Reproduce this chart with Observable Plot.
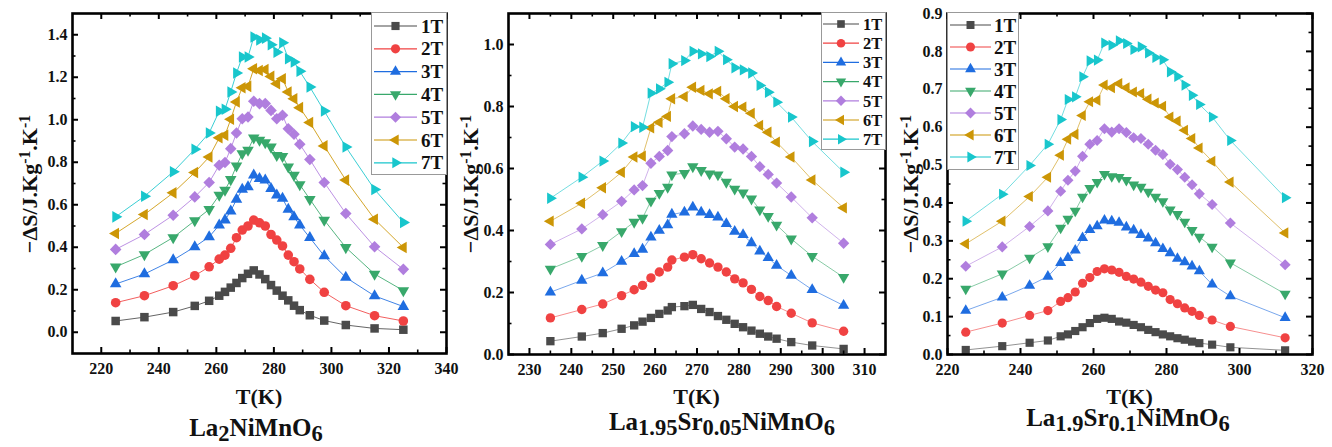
<!DOCTYPE html>
<html><head><meta charset="utf-8">
<script src="https://cdn.jsdelivr.net/npm/d3@7"></script>
<script src="https://cdn.jsdelivr.net/npm/@observablehq/plot@0.6"></script>
<style>
body{margin:0;background:#fff;}
#wrap{position:relative;width:1332px;height:447px;overflow:hidden;font-family:"Liberation Serif","Times New Roman",serif;font-weight:bold;color:#111;}
.panel{position:absolute;top:0;}
.ylab{position:absolute;width:300px;height:22px;line-height:22px;font-size:22px;text-align:center;transform:rotate(-90deg);transform-origin:50% 50%;white-space:nowrap;}
.ylab sup{font-size:0.72em;line-height:0;vertical-align:0.45em;}
.xlab{position:absolute;width:200px;text-align:center;font-size:22px;line-height:22px;white-space:nowrap;}
.cap{position:absolute;width:320px;text-align:center;font-size:25px;line-height:25px;white-space:nowrap;}
.cap sub{font-size:0.9em;line-height:0;vertical-align:-0.22em;}
.legend{position:absolute;}
</style></head><body><div id="wrap"></div>
<script>
// ---------- DATA ----------
const seriesNames = ["1T","2T","3T","4T","5T","6T","7T"];
const seriesColors = ["#4a4a4a","#f04242","#1f6de0","#38a86b","#b07ede","#cc9606","#18c6cc"];

// Panel A: La2NiMnO6
const tempsA = [225,235,245,252.5,257.5,261,263,265,267,269,271,273,275,277,279,281,283,285,287,289,292.5,297.5,305,315,325];
const A_1T = [0.053,0.071,0.095,0.124,0.148,0.172,0.190,0.210,0.232,0.255,0.275,0.291,0.272,0.250,0.222,0.196,0.172,0.150,0.125,0.104,0.080,0.055,0.034,0.018,0.012];
const A_2T = [0.139,0.172,0.219,0.266,0.308,0.344,0.363,0.395,0.445,0.481,0.500,0.528,0.515,0.500,0.460,0.434,0.406,0.363,0.332,0.298,0.249,0.188,0.125,0.078,0.053];
const A_3T = [0.227,0.274,0.340,0.402,0.449,0.504,0.528,0.570,0.625,0.672,0.684,0.739,0.723,0.716,0.676,0.645,0.630,0.578,0.543,0.504,0.445,0.359,0.258,0.171,0.121];
const A_4T = [0.308,0.366,0.446,0.525,0.578,0.645,0.669,0.719,0.783,0.841,0.857,0.915,0.904,0.893,0.872,0.833,0.828,0.778,0.739,0.695,0.626,0.528,0.399,0.274,0.196];
const A_5T = [0.390,0.460,0.551,0.637,0.705,0.786,0.799,0.864,0.938,1.005,1.013,1.087,1.076,1.076,1.044,1.005,1.021,0.958,0.932,0.885,0.813,0.705,0.559,0.402,0.296];
const A_6T = [0.465,0.554,0.656,0.752,0.825,0.915,0.927,1.002,1.084,1.151,1.157,1.240,1.232,1.236,1.204,1.170,1.193,1.131,1.099,1.057,0.987,0.877,0.716,0.532,0.399];
const A_7T = [0.543,0.640,0.755,0.861,0.938,1.040,1.049,1.131,1.220,1.295,1.295,1.389,1.376,1.384,1.353,1.318,1.362,1.287,1.272,1.228,1.154,1.041,0.872,0.672,0.517];

// Panel B: La1.95Sr0.05NiMnO6
const tempsB = [235,242.5,247.5,252,255,257,259,261,263,264,267,269,271,273,275,277,279,281,283,285,287,289,292.5,297.5,305];
const B_1T = [0.043,0.058,0.069,0.083,0.094,0.106,0.118,0.131,0.142,0.153,0.156,0.160,0.147,0.137,0.124,0.112,0.099,0.088,0.077,0.067,0.058,0.051,0.040,0.029,0.018];
const B_2T = [0.118,0.145,0.163,0.190,0.209,0.223,0.247,0.266,0.282,0.305,0.314,0.322,0.309,0.295,0.282,0.266,0.244,0.231,0.210,0.187,0.174,0.155,0.133,0.102,0.075];
const B_3T = [0.201,0.239,0.263,0.300,0.325,0.339,0.378,0.400,0.418,0.452,0.459,0.475,0.459,0.451,0.443,0.422,0.397,0.386,0.360,0.333,0.312,0.287,0.255,0.209,0.158];
const B_4T = [0.276,0.317,0.352,0.397,0.427,0.440,0.495,0.520,0.540,0.580,0.585,0.606,0.594,0.583,0.580,0.556,0.534,0.522,0.502,0.467,0.446,0.418,0.373,0.317,0.249];
const B_5T = [0.355,0.405,0.451,0.494,0.531,0.545,0.617,0.639,0.658,0.703,0.712,0.737,0.726,0.717,0.720,0.696,0.669,0.663,0.639,0.606,0.581,0.553,0.508,0.441,0.359];
const B_6T = [0.430,0.488,0.538,0.588,0.637,0.640,0.731,0.749,0.768,0.825,0.832,0.862,0.852,0.841,0.849,0.825,0.800,0.798,0.778,0.739,0.717,0.685,0.637,0.563,0.473];
const B_7T = [0.504,0.572,0.624,0.682,0.735,0.733,0.843,0.857,0.878,0.938,0.948,0.978,0.970,0.961,0.978,0.951,0.925,0.918,0.908,0.868,0.846,0.814,0.766,0.687,0.588];

// Panel C: La1.9Sr0.1NiMnO6
const tempsC = [225,235,242.5,247.5,251,253,255,257,259,261,263,265,267,269,271,273,275,277,279,281,283,285,287,289,292.5,297.5,312.5];
const C_1T = [0.012,0.022,0.031,0.037,0.048,0.053,0.062,0.072,0.083,0.094,0.097,0.094,0.087,0.084,0.078,0.072,0.065,0.059,0.053,0.048,0.043,0.039,0.034,0.030,0.026,0.019,0.011];
const C_2T = [0.059,0.083,0.103,0.116,0.140,0.150,0.165,0.188,0.203,0.219,0.226,0.223,0.217,0.206,0.199,0.191,0.180,0.170,0.163,0.145,0.134,0.123,0.114,0.103,0.091,0.074,0.044];
const C_3T = [0.116,0.151,0.182,0.206,0.242,0.255,0.275,0.308,0.329,0.339,0.354,0.352,0.348,0.336,0.328,0.316,0.307,0.294,0.279,0.268,0.253,0.244,0.233,0.220,0.185,0.154,0.097];
const C_4T = [0.173,0.213,0.255,0.285,0.334,0.358,0.379,0.416,0.439,0.455,0.476,0.470,0.468,0.460,0.448,0.442,0.429,0.416,0.404,0.382,0.370,0.350,0.328,0.310,0.284,0.242,0.160];
const C_5T = [0.233,0.284,0.338,0.379,0.431,0.460,0.484,0.523,0.555,0.565,0.596,0.587,0.596,0.586,0.572,0.570,0.555,0.539,0.528,0.502,0.488,0.468,0.448,0.424,0.396,0.347,0.237];
const C_6T = [0.292,0.352,0.417,0.468,0.526,0.568,0.581,0.631,0.667,0.671,0.711,0.704,0.715,0.704,0.693,0.689,0.674,0.664,0.655,0.627,0.616,0.592,0.570,0.545,0.510,0.455,0.321];
const C_7T = [0.352,0.423,0.499,0.555,0.620,0.673,0.680,0.733,0.775,0.777,0.822,0.816,0.828,0.821,0.805,0.812,0.796,0.784,0.778,0.746,0.734,0.711,0.684,0.660,0.627,0.565,0.414];

// Tick values
const xMajorA = [220,240,260,280,300,320,340];
const xMinorA = [230,250,270,290,310,330];
const yMajorA = [0,0.2,0.4,0.6,0.8,1.0,1.2,1.4];
const yMinorA = [0.1,0.3,0.5,0.7,0.9,1.1,1.3];
const xMajorB = [230,240,250,260,270,280,290,300,310];
const xMinorB = [235,245,255,265,275,285,295,305];
const yMajorB = [0,0.2,0.4,0.6,0.8,1.0];
const yMinorB = [0.1,0.3,0.5,0.7,0.9];
const xMajorC = [220,240,260,280,300,320];
const xMinorC = [230,250,270,290,310];
const yMajorC = [0,0.1,0.2,0.3,0.4,0.5,0.6,0.7,0.8,0.9];
const yMinorC = [0.05,0.15,0.25,0.35,0.45,0.55,0.65,0.75,0.85];

// ---------- SYMBOLS ----------
function tri(angleDeg) {
  return {draw(ctx, size) {
    const s = size * 0.8;
    const y = -Math.sqrt(s / (Math.sqrt(3) * 3));
    const pts = [[0, 2 * y], [-Math.sqrt(3) * y, -y], [Math.sqrt(3) * y, -y]];
    const a = angleDeg * Math.PI / 180, c = Math.cos(a), sn = Math.sin(a);
    pts.forEach(([px, py], i) => {
      const X = px * c - py * sn, Y = px * sn + py * c;
      i ? ctx.lineTo(X, Y) : ctx.moveTo(X, Y);
    });
    ctx.closePath();
  }};
}
const diamond = {draw(ctx, size) {
  const h = Math.sqrt(size) * 0.68;
  ctx.moveTo(0, -h); ctx.lineTo(h, 0); ctx.lineTo(0, h); ctx.lineTo(-h, 0); ctx.closePath();
}};
const square = {draw(ctx, size) {
  const h = Math.sqrt(size) * 0.5;
  ctx.rect(-h, -h, 2 * h, 2 * h);
}};
const circle = d3.symbolCircle;
const seriesSymbols = [square, circle, tri(0), tri(180), diamond, tri(-90), tri(90)];

// ---------- BUILD ----------
const wrap = document.getElementById("wrap");

function panel(cfg) {
  const height = 380, marginTop = 13, marginBottom = cfg.marginBottom;
  const fh = height - marginTop - marginBottom;
  const fw = cfg.width - cfg.marginLeft - cfg.marginRight;
  const marks = [];
  cfg.series.forEach((vals, i) => {
    const rows = cfg.temps.map((t, j) => ({T: t, v: vals[j]}));
    marks.push(Plot.line(rows, {x: "T", y: "v", stroke: seriesColors[i], strokeWidth: 1, strokeOpacity: cfg.lineOpacity}));
  });
  cfg.series.forEach((vals, i) => {
    const rows = cfg.temps.map((t, j) => ({T: t, v: vals[j]}));
    marks.push(Plot.dot(rows, {x: "T", y: "v", symbol: seriesSymbols[i], r: cfg.r, fill: seriesColors[i], stroke: "none"}));
  });
  const addTicks = (xs, ys, len, w) => {
    marks.push(Plot.tickX(xs, {x: d => d, insetTop: fh - len, stroke: "#000", strokeWidth: w}));
    marks.push(Plot.tickX(xs, {x: d => d, insetBottom: fh - len, stroke: "#000", strokeWidth: w}));
    marks.push(Plot.tickY(ys, {y: d => d, insetRight: fw - len, stroke: "#000", strokeWidth: w}));
    marks.push(Plot.tickY(ys, {y: d => d, insetLeft: fw - len, stroke: "#000", strokeWidth: w}));
  };
  addTicks(cfg.xMajor, cfg.yMajor, 6, 2);
  addTicks(cfg.xMinor, cfg.yMinor, 3.5, 1.6);
  marks.push(Plot.frame({stroke: "#000", strokeWidth: 2.6}));
  marks.push(Plot.axisX({ticks: cfg.xMajor, tickSize: 0, tickPadding: 9, tickFormat: d => String(d), fontSize: 16, fontWeight: "bold", label: null}));
  marks.push(Plot.axisY({ticks: cfg.yMajor, tickSize: 0, tickPadding: 5, tickFormat: d3.format(".1f"), fontSize: 16, fontWeight: "bold", label: null}));
  const svg = Plot.plot({
    width: cfg.width, height, marginTop, marginBottom,
    marginLeft: cfg.marginLeft, marginRight: cfg.marginRight,
    x: {domain: cfg.xDomain, label: null},
    y: {domain: cfg.yDomain, label: null},
    style: {background: "transparent", overflow: "visible", fontFamily: "'Liberation Serif', 'Times New Roman', serif", fontWeight: "bold", fontSize: "16px", color: "#111", maxWidth: "none"},
    marks
  });
  const div = document.createElement("div");
  div.className = "panel";
  div.style.left = cfg.left + "px";
  div.appendChild(svg);
  wrap.appendChild(div);

  // y label
  const yl = document.createElement("div");
  yl.className = "ylab";
  yl.style.left = (cfg.yLabelCx - 150) + "px";
  yl.style.top = (184 - 11) + "px";
  yl.innerHTML = "\u2212\u0394S/J.Kg<sup>-1</sup>.K<sup>-1</sup>";
  wrap.appendChild(yl);
  // x label
  const xl = document.createElement("div");
  xl.className = "xlab";
  xl.style.left = (cfg.left + cfg.marginLeft + fw / 2 - 100) + "px";
  xl.style.top = "386px";
  xl.textContent = "T(K)";
  wrap.appendChild(xl);
  // caption
  const cap = document.createElement("div");
  cap.className = "cap";
  cap.style.left = (cfg.capCx - 160) + "px";
  cap.style.top = (cfg.capBaseline - 21) + "px";
  cap.innerHTML = cfg.caption;
  wrap.appendChild(cap);

  // legend
  const L = cfg.legend;
  const lg = d3.select(wrap).append("svg").attr("class", "legend")
    .style("left", L.left + "px").style("top", L.top + "px")
    .attr("width", L.width).attr("height", L.height);
  lg.append("rect").attr("x", 0.5).attr("y", 0.5).attr("width", L.width - 1).attr("height", L.height - 1)
    .attr("fill", "#fff").attr("stroke", "#999").attr("stroke-width", 1);
  seriesNames.forEach((name, i) => {
    const yy = L.y0 + i * L.dy;
    lg.append("line").attr("x1", L.x0).attr("x2", L.x1).attr("y1", yy).attr("y2", yy)
      .attr("stroke", seriesColors[i]).attr("stroke-width", 1.2);
    lg.append("path").attr("transform", `translate(${(L.x0 + L.x1) / 2},${yy})`)
      .attr("d", d3.symbol(seriesSymbols[i], Math.PI * L.r * L.r)()).attr("fill", seriesColors[i]);
    lg.append("text").attr("x", L.tx).attr("y", yy).attr("dy", "0.35em")
      .attr("font-family", "'Liberation Serif', 'Times New Roman', serif").attr("font-weight", "bold")
      .attr("font-size", L.fs).attr("fill", "#111").text(name);
  });
}

panel({
  left: 0, width: 452, marginLeft: 72, marginRight: 6, marginBottom: 27,
  xDomain: [210, 340], yDomain: [-0.1, 1.5], temps: tempsA,
  series: [A_1T, A_2T, A_3T, A_4T, A_5T, A_6T, A_7T],
  xMajor: xMajorA, xMinor: xMinorA, yMajor: yMajorA, yMinor: yMinorA,
  lineOpacity: 0.85, r: 4.8, yLabelCx: 29.6,
  caption: "La<sub>2</sub>NiMnO<sub>6</sub>", capCx: 256, capBaseline: 436,
  legend: {left: 371, top: 12, width: 76, height: 163, y0: 14, dy: 22.8, x0: 3, x1: 46, tx: 50, fs: 19, r: 4.6}
});
panel({
  left: 446, width: 444, marginLeft: 62, marginRight: 5, marginBottom: 26,
  xDomain: [225, 315], yDomain: [0, 1.1], temps: tempsB,
  series: [B_1T, B_2T, B_3T, B_4T, B_5T, B_6T, B_7T],
  xMajor: xMajorB, xMinor: xMinorB, yMajor: yMajorB, yMinor: yMinorB,
  lineOpacity: 0.6, r: 4.7, yLabelCx: 470.6,
  caption: "La<sub>1.95</sub>Sr<sub>0.05</sub>NiMnO<sub>6</sub>", capCx: 722, capBaseline: 430,
  legend: {left: 821, top: 12, width: 65, height: 138, y0: 12, dy: 19.2, x0: 2, x1: 38, tx: 42, fs: 16.5, r: 4.3}
});
panel({
  left: 890, width: 442, marginLeft: 57, marginRight: 20, marginBottom: 26,
  xDomain: [220, 320], yDomain: [0, 0.9], temps: tempsC,
  series: [C_1T, C_2T, C_3T, C_4T, C_5T, C_6T, C_7T],
  xMajor: xMajorC, xMinor: xMinorC, yMajor: yMajorC, yMinor: yMinorC,
  lineOpacity: 0.6, r: 4.6, yLabelCx: 910.6,
  caption: "La<sub>1.9</sub>Sr<sub>0.1</sub>NiMnO<sub>6</sub>", capCx: 1128, capBaseline: 426,
  legend: {left: 947, top: 12, width: 72, height: 158, y0: 13, dy: 22, x0: 3, x1: 44, tx: 47, fs: 19, r: 4.5}
});
</script></body></html>
